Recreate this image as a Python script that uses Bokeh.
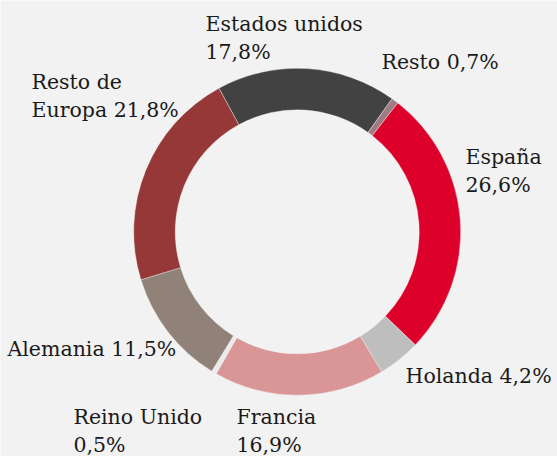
import math
from bokeh.plotting import figure
from bokeh.models import Range1d, ColumnDataSource
from bokeh.core.properties import value
from bokeh.embed import file_html
from bokeh.resources import INLINE

# ---- data ----
categories = ["Estados unidos", "Resto", "España", "Holanda", "Francia",
              "Reino Unido", "Alemania", "Resto de Europa"]
shares = [17.8, 0.7, 26.6, 4.2, 16.9, 0.5, 11.5, 21.8]
colors = ["#424242", "#a07c82", "#dc002b", "#bebebe", "#da9696",
          "#ebebeb", "#918279", "#963837"]
label_lines = [
    ["Estados unidos", "17,8%"],
    ["Resto 0,7%"],
    ["España", "26,6%"],
    ["Holanda 4,2%"],
    ["Francia", "16,9%"],
    ["Reino Unido", "0,5%"],
    ["Alemania 11,5%"],
    ["Resto de", "Europa 21,8%"],
]

# ---- layout (picture pixel coords) ----
W, H = 557, 456
label_pos = [(205, 30), (381, 68), (465, 163), (405, 382),
             (236, 423), (73, 423), (7, 355), (31, 88)]
line_gap = 28.5
baseline_fix = -7
cx_page, cy_page = 296.7, 231.3
r_out, r_in = 163.5, 122
start_deg = -28.6  # clockwise from top

def px(x):
    return x

def py(y):
    return H - y

total = sum(shares)
starts, ends = [], []
acc = start_deg
for s in shares:
    a0 = acc
    a1 = acc + s / total * 360.0
    starts.append(math.radians(90 - a0))
    ends.append(math.radians(90 - a1))
    acc = a1

src = ColumnDataSource(dict(start=starts, end=ends, color=colors, cat=categories))

p = figure(width=W, height=H, output_backend="svg", toolbar_location=None,
           x_range=Range1d(0, W), y_range=Range1d(0, H), min_border=0)
p.axis.visible = False
p.grid.visible = False
p.outline_line_color = None
p.background_fill_color = "#f2f2f2"
p.border_fill_color = "#f2f2f2"

p.annular_wedge(x=px(cx_page), y=py(cy_page), inner_radius=r_in, outer_radius=r_out,
                start_angle="start", end_angle="end", direction="clock",
                fill_color="color", line_color="#f2f2f2", line_width=0.4, source=src)

tx, ty, tt = [], [], []
for lines, (x0, y0) in zip(label_lines, label_pos):
    for i, t in enumerate(lines):
        tx.append(px(x0))
        ty.append(py(y0 + i * line_gap + baseline_fix))
        tt.append(t)

p.text(x=tx, y=ty, text=tt, text_font=value("DejaVu Serif"), text_font_size="20.5px",
       text_color="#1a1a1a", text_baseline="alphabetic", text_align="left")

html = file_html(p, INLINE)
html = html.replace("<body>", '<body style="background:#f2f2f2">', 1)
open("out.html", "w").write(html)
